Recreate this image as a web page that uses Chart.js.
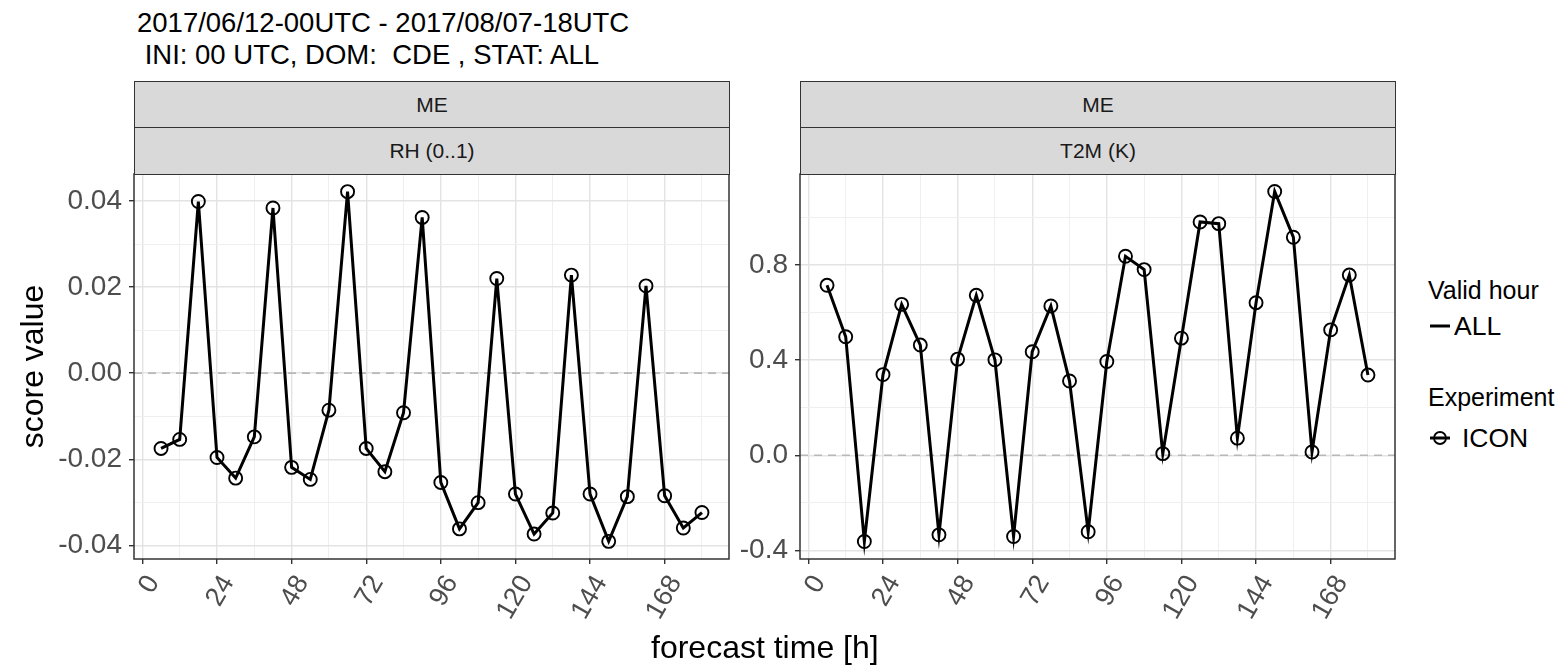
<!DOCTYPE html>
<html>
<head>
<meta charset="utf-8">
<script src="https://cdn.jsdelivr.net/npm/chart.js@4.4.1/dist/chart.umd.min.js"></script>
<style>
  body { margin: 0; background: #fff; font-family: 'Liberation Sans', Arial, sans-serif; }
  #page { position: relative; width: 1558px; height: 667px; overflow: hidden; background: #fff; }
  .abs { position: absolute; white-space: pre; }
  .strip {
    position: absolute; background: #d9d9d9; border: 1.5px solid #333; box-sizing: border-box;
    color: #1a1a1a; font-size: 21px; display: flex; align-items: center; justify-content: center;
  }
  .title { font-size: 27.5px; color: #000; line-height: 32px; }
  .legTitle { font-size: 25px; color: #000; line-height: 28px; }
  .legText { font-size: 26.5px; color: #000; line-height: 30px; }
</style>
</head>
<body>
<div id="page">
  <div class="abs title" style="left:137px; top:7px;">2017/06/12-00UTC - 2017/08/07-18UTC</div>
  <div class="abs title" style="left:137px; top:39px;"> INI: 00 UTC, DOM:  CDE , STAT: ALL</div>

  <canvas id="rhChart" class="abs" style="left:0px; top:160px;"></canvas>
  <canvas id="t2mChart" class="abs" style="left:725px; top:160px;"></canvas>

  <div class="strip" style="left:134px; top:81px; width:596px; height:48px;">ME</div>
  <div class="strip" style="left:134px; top:127px; width:596px; height:48px;">RH (0..1)</div>
  <div class="strip" style="left:800px; top:81px; width:596px; height:48px;">ME</div>
  <div class="strip" style="left:800px; top:127px; width:596px; height:48px;">T2M (K)</div>

  <div class="abs" style="left:651px; top:629px; font-size:32px; line-height:36px; color:#000;">forecast time [h]</div>

  <div class="abs legTitle" style="left:1428px; top:276px;">Valid hour</div>
  <svg class="abs" style="left:1428px; top:316px;" width="24" height="20">
    <line x1="2" y1="10" x2="22" y2="10" stroke="#000" stroke-width="3"/>
  </svg>
  <div class="abs legText" style="left:1454px; top:311px;">ALL</div>

  <div class="abs legTitle" style="left:1428px; top:383px;">Experiment</div>
  <svg class="abs" style="left:1428px; top:428px;" width="24" height="20">
    <line x1="2" y1="10" x2="22" y2="10" stroke="#000" stroke-width="3"/>
    <circle cx="12" cy="10" r="6" fill="none" stroke="#000" stroke-width="1.8"/>
  </svg>
  <div class="abs legText" style="left:1462px; top:423px;">ICON</div>
</div>

<script>
// forecast lead times [h]
const hours = [6, 12, 18, 24, 30, 36, 42, 48, 54, 60,
               66, 72, 78, 84, 90, 96, 102, 108, 114, 120,
               126, 132, 138, 144, 150, 156, 162, 168, 174, 180]

// mean error, relative humidity (0..1)
const rhMe = [-0.0175, -0.0154, 0.0399, -0.0196, -0.0244, -0.0148, 0.0384, -0.0219, -0.0247, -0.0086,
              0.0422, -0.0175, -0.0229, -0.0092, 0.0362, -0.0254, -0.0362, -0.0301, 0.0220, -0.0281,
              -0.0374, -0.0325, 0.0228, -0.0281, -0.0391, -0.0287, 0.0203, -0.0285, -0.0360, -0.0324]

// mean error, 2m temperature (K)
const t2mMe = [0.714, 0.498, -0.362, 0.339, 0.634, 0.463, -0.334, 0.404, 0.672, 0.401,
               -0.341, 0.435, 0.627, 0.312, -0.321, 0.394, 0.836, 0.780, 0.007, 0.492,
               0.980, 0.973, 0.072, 0.641, 1.108, 0.916, 0.014, 0.527, 0.757, 0.337]

const xTickLabels = ['0', '24', '48', '72', '96', '120', '144', '168']
const rhTickLabels = ['-0.04', '-0.02', '0.00', '0.02', '0.04']
const t2mTickLabels = ['-0.4', '0.0', '0.4', '0.8']

const FONT = "'Liberation Sans', Arial, sans-serif"
const CANVAS_H = 507
const AREA_TOP = 14
const AREA_BOTTOM = 399

function isMajor(value, step) {
    const r = value / step
    return Math.abs(r - Math.round(r)) < 1e-6
}

// keep tick labels from pushing the plot area around
function noLabelPadding(scale) {
    scale.paddingTop = 0
    scale.paddingBottom = 0
    scale.paddingLeft = 0
    scale.paddingRight = 0
}

// dashed zero line + panel border like ggplot's theme_bw
const panelDecor = {
    id: 'panelDecor',
    beforeDatasetsDraw(chart) {
        const { ctx, chartArea: a, scales: { y } } = chart
        const y0 = y.getPixelForValue(0)
        ctx.save()
        ctx.strokeStyle = '#b8b8b8'
        ctx.lineWidth = 1.6
        ctx.setLineDash([8, 6])
        ctx.beginPath()
        ctx.moveTo(a.left, y0)
        ctx.lineTo(a.right, y0)
        ctx.stroke()
        ctx.restore()
    },
    afterDraw(chart) {
        const { ctx, chartArea: a } = chart
        ctx.save()
        ctx.strokeStyle = '#333'
        ctx.lineWidth = 1.5
        ctx.strokeRect(a.left, a.top, a.right - a.left, a.bottom - a.top)
        ctx.restore()
    }
}

function makePanel(canvasId, values, opts) {
    const canvas = document.getElementById(canvasId)
    canvas.width = opts.width
    canvas.height = CANVAS_H
    canvas.style.width = opts.width + 'px'
    canvas.style.height = CANVAS_H + 'px'

    const points = hours.map((h, i) => ({ x: h, y: values[i] }))

    return new Chart(canvas.getContext('2d'), {
        type: 'line',
        data: {
            datasets: [{
                label: 'ICON',
                data: points,
                borderColor: '#000',
                borderWidth: 3,
                tension: 0,
                pointRadius: 6.5,
                pointBorderWidth: 1.9,
                pointBorderColor: '#000',
                pointBackgroundColor: 'rgba(0,0,0,0)'
            }]
        },
        options: {
            responsive: false,
            animation: false,
            layout: { padding: { left: 0, top: AREA_TOP, right: opts.padRight, bottom: 0 } },
            plugins: { legend: { display: false }, tooltip: { enabled: false } },
            scales: {
                x: {
                    type: 'linear',
                    min: -2.7,
                    max: 188.7,
                    afterFit: (scale) => {
                        scale.height = CANVAS_H - AREA_BOTTOM
                        noLabelPadding(scale)
                    },
                    border: { display: false },
                    grid: {
                        color: (c) => isMajor(c.tick.value, 24) ? '#e3e3e3' : '#efefef',
                        lineWidth: (c) => isMajor(c.tick.value, 24) ? 1.4 : 1,
                        tickColor: (c) => isMajor(c.tick.value, 24) ? '#333' : 'rgba(0,0,0,0)',
                        tickLength: 5
                    },
                    ticks: {
                        stepSize: 12,
                        includeBounds: false,
                        autoSkip: false,
                        minRotation: 60,
                        maxRotation: 60,
                        padding: 6,
                        labelOffset: 11,
                        color: '#4d4d4d',
                        font: { family: FONT, size: 27 },
                        callback: (v) => isMajor(v, 24) ? xTickLabels[Math.round(v / 24)] : ''
                    }
                },
                y: {
                    min: opts.yMin,
                    max: opts.yMax,
                    afterFit: (scale) => {
                        scale.width = opts.axisWidth
                        noLabelPadding(scale)
                    },
                    border: { display: false },
                    grid: {
                        color: (c) => isMajor(c.tick.value, opts.major) ? '#e3e3e3' : '#efefef',
                        lineWidth: (c) => isMajor(c.tick.value, opts.major) ? 1.4 : 1,
                        tickColor: (c) => isMajor(c.tick.value, opts.major) ? '#333' : 'rgba(0,0,0,0)',
                        tickLength: 5
                    },
                    ticks: {
                        stepSize: opts.major / 2,
                        includeBounds: false,
                        autoSkip: false,
                        padding: 7,
                        color: '#4d4d4d',
                        font: { family: FONT, size: 28 },
                        callback: (v) => {
                            if (!isMajor(v, opts.major)) return ''
                            const idx = Math.round((v - opts.firstMajor) / opts.major)
                            return opts.labels[idx]
                        }
                    },
                    title: {
                        display: !!opts.title,
                        text: opts.title || '',
                        color: '#000',
                        font: { family: FONT, size: 32 },
                        padding: { top: 15, bottom: 0 }
                    }
                }
            }
        },
        plugins: [panelDecor]
    })
}

makePanel('rhChart', rhMe, {
    width: 745, padRight: 745 - 729, axisWidth: 134,
    yMin: -0.0432, yMax: 0.0463, major: 0.02, firstMajor: -0.04,
    labels: rhTickLabels, title: 'score value'
})

makePanel('t2mChart', t2mMe, {
    width: 690, padRight: 725 + 690 - 1395, axisWidth: 75,
    yMin: -0.4355, yMax: 1.1815, major: 0.4, firstMajor: -0.4,
    labels: t2mTickLabels, title: ''
})
</script>
</body>
</html>
